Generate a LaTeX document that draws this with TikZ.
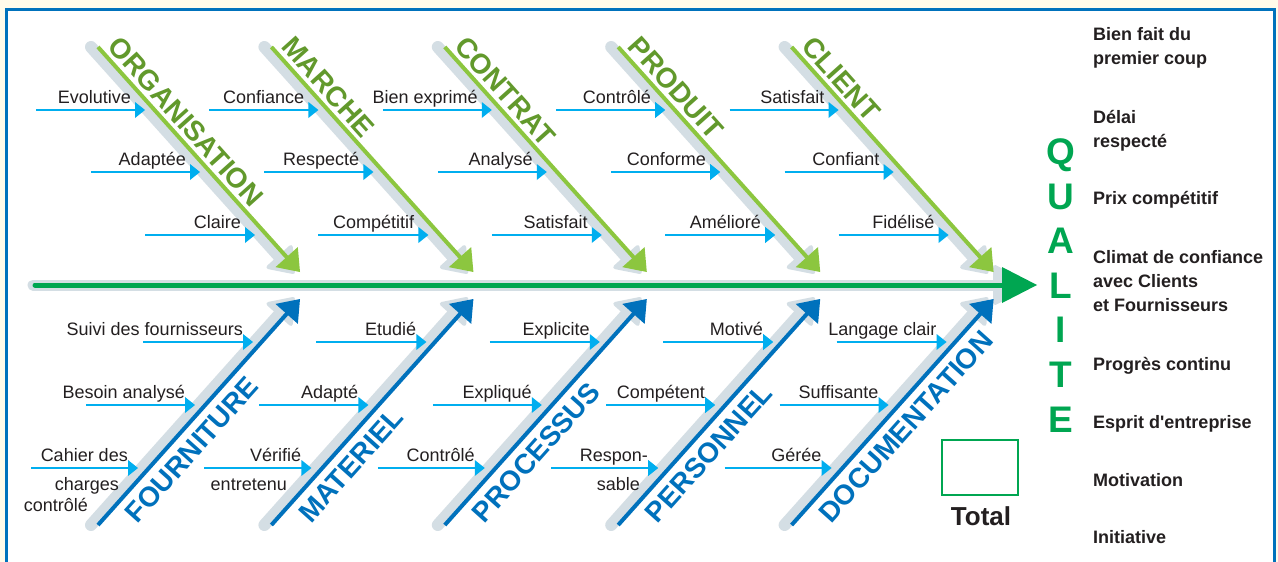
\documentclass[tikz,border=0pt]{standalone}
\usepackage{fontspec}
\setmainfont{Liberation Sans}[Ligatures=TeXOff]
\usetikzlibrary{calc}

\definecolor{cCream}{RGB}{255,251,234}
\definecolor{cFrame}{RGB}{0,114,188}
\definecolor{cBand}{RGB}{212,222,228}
\definecolor{cBoneG}{RGB}{140,198,63}
\definecolor{cLabG}{RGB}{98,153,44}
\definecolor{cBoneB}{RGB}{0,113,188}
\definecolor{cFeed}{RGB}{0,174,239}
\definecolor{cSpine}{RGB}{0,166,81}
\definecolor{cInk}{RGB}{35,31,32}

\tikzset{
  bandline/.style={draw=cBand, line width=12pt, line cap=round},
  bandhead/.style={fill=cBand, draw=cBand, line width=4pt, line join=round},
  boneline/.style={line width=4pt},
  feedline/.style={draw=cFeed, line width=2.6pt},
  feedlab/.style={font=\fontsize{18}{22}\selectfont, text=cInk, inner sep=0pt},
  rightlab/.style={font=\bfseries\fontsize{18}{22}\selectfont, text=cInk, inner sep=0pt, anchor=base west},
  bonelab/.style={font=\bfseries\fontsize{28}{32}\selectfont, inner sep=0pt, anchor=base west},
  qletter/.style={font=\bfseries\fontsize{37}{40}\selectfont, text=cSpine, inner sep=0pt, anchor=base},
}

% upper bone: id, start x, tip x, label
\newcommand\topbone[4]{%
  \coordinate (#1s) at (#2,47);
  \coordinate (#1t) at (#3,272);
  \coordinate (#1b) at ($(#1t)!20pt!(#1s)$);
  \coordinate (#1l) at ($(#1b)!15pt!90:(#1t)$);
  \coordinate (#1r) at ($(#1b)!15pt!-90:(#1t)$);
  \draw[bandline] ($(#1s)+(-7,0)$) -- ($(#1b)+(-7,0)$);
  \filldraw[bandhead] ($(#1t)+(-7,0)$) -- ($(#1l)+(-7,0)$) -- ($(#1r)+(-7,0)$) -- cycle;
  \draw[boneline, cBoneG] (#1s) -- ($(#1t)!19pt!(#1s)$);
  \fill[cBoneG] (#1t) -- (#1l) -- (#1r) -- cycle;
  \coordinate (#1p) at ($(#1s)!6pt!(#1t)$);
  \node[bonelab, text=cLabG, rotate=-48.1] (#1n) at ($(#1p)!6pt!90:(#1t)$) {#4};
}

% lower bone: id, start x, tip x, label
\newcommand\botbone[4]{%
  \coordinate (#1s) at (#2,525);
  \coordinate (#1t) at (#3,299);
  \coordinate (#1b) at ($(#1t)!20pt!(#1s)$);
  \coordinate (#1l) at ($(#1b)!15pt!90:(#1t)$);
  \coordinate (#1r) at ($(#1b)!15pt!-90:(#1t)$);
  \draw[bandline] ($(#1s)+(-7,0)$) -- ($(#1b)+(-7,0)$);
  \filldraw[bandhead] ($(#1t)+(-7,0)$) -- ($(#1l)+(-7,0)$) -- ($(#1r)+(-7,0)$) -- cycle;
  \draw[boneline, cBoneB] (#1s) -- ($(#1t)!19pt!(#1s)$);
  \fill[cBoneB] (#1t) -- (#1l) -- (#1r) -- cycle;
  \coordinate (#1p) at ($(#1s)!27pt!(#1t)$);
  \node[bonelab, text=cBoneB, rotate=48.1] (#1n) at ($(#1p)!29pt!-90:(#1t)$) {#4};
}

% feeder arrow: id, y, start x, tip x, gap to label, label
\newcommand\feeder[6]{%
  \coordinate (#1a) at (#3,#2);
  \coordinate (#1z) at (#4,#2);
  \draw[feedline] (#1a) -- ($(#1z)+(-9,0)$);
  \fill[cFeed] (#1z) -- ($(#1z)+(-10,-8)$) -- ($(#1z)+(-10,8)$) -- cycle;
  \node[feedlab, anchor=base east] (#1n) at ($(#1z)+(-#5,-7)$) {#6};
}

\begin{document}
\begin{tikzpicture}[x=1pt,y=-1pt]
\useasboundingbox (0,0) rectangle (1278,562);
\fill[cCream] (0,0) rectangle (1278,562);
\fill[white] (6.5,9.5) rectangle (1274.5,562);
\draw[cFrame, line width=2.5pt] (6.5,562) -- (6.5,9.5) -- (1274.5,9.5) -- (1274.5,562);

% main spine
\coordinate (sp0) at (35,285);
\coordinate (spb) at (1002,285);
\coordinate (spt) at (1037,285);
\draw[bandline, line width=11pt] ($(sp0)+(-2,0)$) -- ($(spb)+(-7,0)$);
\filldraw[bandhead] ($(spt)+(-7,0)$) -- ($(spb)+(-7,-18)$) -- ($(spb)+(-7,18)$) -- cycle;
\draw[cSpine, line width=5pt, line cap=round] (sp0) -- ($(spb)+(1,0)$);
\fill[cSpine] (spt) -- ($(spb)+(0,-18)$) -- ($(spb)+(0,18)$) -- cycle;

% cause bones
\topbone{org}{98}{300}{ORGANISATION}
\topbone{mar}{271.4}{473.4}{MARCHE}
\topbone{con}{444.8}{646.8}{CONTRAT}
\topbone{pro}{618.2}{820.2}{PRODUIT}
\topbone{cli}{791.6}{993.6}{CLIENT}

\botbone{fou}{98}{300}{FOURNITURE}
\botbone{mat}{271.4}{473.4}{MATERIEL}
\botbone{prc}{444.8}{646.8}{PROCESSUS}
\botbone{per}{618.2}{820.2}{PERSONNEL}
\botbone{doc}{791.6}{993.6}{DOCUMENTATION}

% feeders, upper half
\feeder{a1}{110}{36}{145}{14}{Evolutive}
\feeder{a2}{172}{91}{200}{14}{Adaptée}
\feeder{a3}{235}{145}{255}{14}{Claire}
\feeder{b1}{110}{209.4}{318.4}{14}{Confiance}
\feeder{b2}{172}{264.4}{373.4}{14}{Respecté}
\feeder{b3}{235}{318.4}{428.4}{14}{Compétitif}
\feeder{c1}{110}{382.8}{491.8}{14}{Bien exprimé}
\feeder{c2}{172}{437.8}{546.8}{14}{Analysé}
\feeder{c3}{235}{491.8}{601.8}{14}{Satisfait}
\feeder{d1}{110}{556.2}{665.2}{14}{Contrôlé}
\feeder{d2}{172}{611.2}{720.2}{14}{Conforme}
\feeder{d3}{235}{665.2}{775.2}{14}{Amélioré}
\feeder{e1}{110}{729.6}{838.6}{14}{Satisfait}
\feeder{e2}{172}{784.6}{893.6}{14}{Confiant}
\feeder{e3}{235}{838.6}{948.6}{14}{Fidélisé}

% feeders, lower half
\feeder{f1}{342}{143}{253}{10}{Suivi des fournisseurs}
\feeder{f2}{405}{86}{195}{10}{Besoin analysé}
\feeder{f3}{468}{31}{138}{10}{Cahier des}
\feeder{g1}{342}{316.4}{426.4}{10}{Etudié}
\feeder{g2}{405}{259.4}{368.4}{10}{Adapté}
\feeder{g3}{468}{204.4}{311.4}{10}{Vérifié}
\feeder{h1}{342}{489.8}{599.8}{10}{Explicite}
\feeder{h2}{405}{432.8}{541.8}{10}{Expliqué}
\feeder{h3}{468}{377.8}{484.8}{10}{Contrôlé}
\feeder{i1}{342}{663.2}{773.2}{10}{Motivé}
\feeder{i2}{405}{606.2}{715.2}{10}{Compétent}
\feeder{i3}{468}{551.2}{658.2}{10}{Respon-}
\feeder{j1}{342}{836.6}{946.6}{10}{Langage clair}
\feeder{j2}{405}{779.6}{888.6}{10}{Suffisante}
\feeder{j3}{468}{724.6}{831.6}{10}{Gérée}

% continuation lines under the feeders
\node[feedlab, anchor=base east] (f3b) at (119,490) {charges};
\node[feedlab, anchor=base east] (f3c) at (88,511) {contrôlé};
\node[feedlab, anchor=base east] (g3b) at (287,490) {entretenu};
\node[feedlab, anchor=base east] (i3b) at (640,490) {sable};

% effect letters
\node[qletter] (q1) at (1061,164) {Q};
\node[qletter] (q2) at (1061,209) {U};
\node[qletter] (q3) at (1061,253) {A};
\node[qletter] (q4) at (1061,298) {L};
\node[qletter] (q5) at (1061,342) {I};
\node[qletter] (q6) at (1061,387) {T};
\node[qletter] (q7) at (1061,432) {E};

% quality criteria
\node[rightlab] (r1a) at (1093,40) {Bien fait du};
\node[rightlab] (r1b) at (1093,64) {premier coup};
\node[rightlab] (r2a) at (1093,123) {Délai};
\node[rightlab] (r2b) at (1093,147) {respecté};
\node[rightlab] (r3) at (1093,204) {Prix compétitif};
\node[rightlab] (r4a) at (1093,263) {Climat de confiance};
\node[rightlab] (r4b) at (1093,287) {avec Clients};
\node[rightlab] (r4c) at (1093,311) {et Fournisseurs};
\node[rightlab] (r5) at (1093,370) {Progrès continu};
\node[rightlab] (r6) at (1093,428) {Esprit d'entreprise};
\node[rightlab] (r7) at (1093,486) {Motivation};
\node[rightlab] (r8) at (1093,543) {Initiative};

% score box
\node[draw=cSpine, line width=2.5pt, minimum width=76pt, minimum height=55pt, inner sep=0pt] (box) at (980,467.5) {};
\node[font=\bfseries\fontsize{26}{30}\selectfont, text=cInk, inner sep=0pt, anchor=base] (total) at (981,525) {Total};
\end{tikzpicture}
\end{document}
